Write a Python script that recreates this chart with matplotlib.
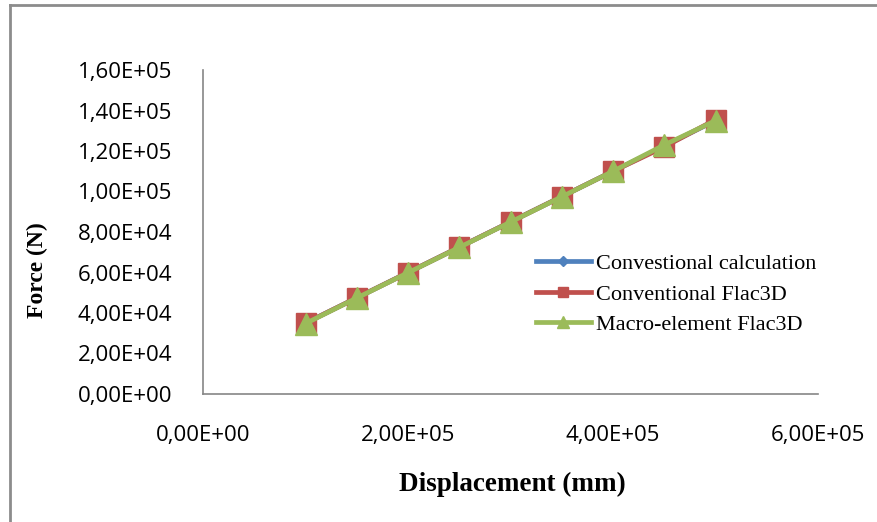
import matplotlib
matplotlib.use("Agg")
import matplotlib.pyplot as plt
from matplotlib.ticker import FuncFormatter, MultipleLocator
from matplotlib.lines import Line2D

# Load-displacement data
displacement = [1.0e5, 1.5e5, 2.0e5, 2.5e5, 3.0e5, 3.5e5, 4.0e5, 4.5e5, 5.0e5]
force_conv_calc = [35000, 47500, 60000, 72500, 85000, 97500, 110000, 122500, 135000]
force_conv_flac = [35000, 47500, 60000, 72500, 85000, 97500, 110000, 122000, 135500]
force_macro_flac = [34800, 47400, 59900, 72400, 84900, 97400, 110000, 123000, 135000]

series_names = ["Convestional calculation", "Conventional Flac3D", "Macro-element Flac3D"]
x_label = "Displacement (mm)"
y_label = "Force (N)"

fig = plt.figure(figsize=(8.78, 5.22), dpi=100)
ax = fig.add_axes([203 / 878, 1 - 394 / 522, 615 / 878, 324 / 522])

ax.plot(displacement, force_conv_calc, color="#4F81BD", lw=3.4, marker="D",
        ms=10, label=series_names[0], zorder=3)
ax.plot(displacement, force_conv_flac, color="#C0504D", lw=3.4, marker="s",
        ms=15, label=series_names[1], zorder=4)
ax.plot(displacement, force_macro_flac, color="#9BBB59", lw=3.4, marker="^",
        ms=16, label=series_names[2], zorder=5)

ax.set_xlim(0, 6.0e5)
ax.set_ylim(0, 1.6e5)
ax.xaxis.set_major_locator(MultipleLocator(2.0e5))
ax.yaxis.set_major_locator(MultipleLocator(2.0e4))

sci_fmt = FuncFormatter(lambda v, pos: f"{v:.2E}".replace(".", ","))
ax.xaxis.set_major_formatter(sci_fmt)
ax.yaxis.set_major_formatter(sci_fmt)

for lab in ax.get_xticklabels() + ax.get_yticklabels():
    lab.set_fontfamily("Open Sans")
    lab.set_fontsize(16)
ax.tick_params(axis="both", length=0, colors="black")
ax.tick_params(axis="y", pad=22)
ax.tick_params(axis="x", pad=22)

for side in ("top", "right"):
    ax.spines[side].set_visible(False)
for side in ("left", "bottom"):
    ax.spines[side].set_color("#868686")
    ax.spines[side].set_linewidth(1.2)

# Axis titles
fig.text(512 / 878, 1 - 484 / 522, x_label, family="Liberation Serif",
         weight="bold", size=19.5, ha="center", va="center")
fig.text(37 / 878, 1 - 270 / 522, y_label, family="Liberation Serif",
         weight="bold", size=17, ha="center", va="center", rotation=90)

leg = ax.legend(loc="upper left", bbox_to_anchor=(520 / 878, 1 - 238 / 522),
                bbox_transform=fig.transFigure, frameon=False,
                prop=dict(family="Liberation Serif", size=16),
                handlelength=2.5, handletextpad=0.22, labelspacing=0.45,
                markerscale=0.52, borderpad=0.2)

# Outer chart frame
fig.add_artist(Line2D([10 / 878, 10 / 878], [0, 1 - 5 / 522],
                      transform=fig.transFigure, color="#8C8C8C", lw=2))
fig.add_artist(Line2D([10 / 878, 1], [1 - 5 / 522, 1 - 5 / 522],
                      transform=fig.transFigure, color="#8C8C8C", lw=2))

fig.savefig("out.png", dpi=100)
